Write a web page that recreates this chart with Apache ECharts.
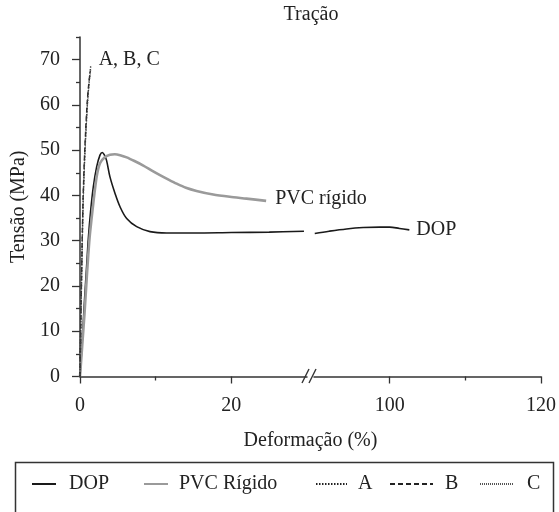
<!DOCTYPE html>
<html><head><meta charset="utf-8">
<script src="https://cdn.jsdelivr.net/npm/echarts@6/dist/echarts.min.js"></script>
<style>html,body{margin:0;padding:0;background:#fff}#c{width:559px;height:512px}</style>
</head><body><div id="c"></div>
<script>
// ---- data ----
const dopStrainLeft  = [0, 0.3, 0.6, 0.9, 1.1, 1.4, 1.76, 2.2, 2.64, 2.95, 3.2, 3.5, 3.96, 4.62, 5.29, 6.17, 7.49, 9.25, 11.45, 15, 20, 25, 29.6];
const dopStressLeft  = [0, 8, 17, 25, 30.5, 36.5, 41.9, 46.3, 48.9, 49.5, 49.0, 47.8, 44.1, 40.5, 37.5, 34.9, 33.1, 32.0, 31.7, 31.7, 31.8, 31.9, 32.1];
const dopStrainRight = [90.1, 92, 94.3, 96.5, 98.7, 100, 101.3, 102.6];
const dopStressRight = [31.6, 32.1, 32.6, 32.9, 33.0, 33.0, 32.7, 32.4];
const pvcStrain = [0, 0.3, 0.6, 0.9, 1.1, 1.32, 1.76, 2.2, 2.64, 3.3, 3.96, 4.6, 5.3, 6.17, 7.2, 8.37, 9.5, 10.57, 11.7, 12.77, 14, 15.4, 17.6, 19.8, 22.0, 24.6];
const pvcStress = [0, 7, 14, 22, 27, 31.6, 38.3, 44.1, 47.1, 48.5, 49.0, 49.1, 48.9, 48.4, 47.6, 46.6, 45.5, 44.5, 43.5, 42.6, 41.7, 41.0, 40.2, 39.7, 39.3, 38.8];
const aStrain = [0, 0.15, 0.3, 0.44, 0.66, 0.97, 1.2, 1.41];
const aStress = [0, 16, 30, 40, 50, 60, 65, 68.5];
const bStrain = [0, 0.15, 0.29, 0.42, 0.63, 0.93, 1.15, 1.36];
const bStress = [0, 16, 30, 40, 50, 60, 64.5, 67.5];
const cStrain = [0, 0.16, 0.31, 0.46, 0.68, 1.0, 1.23, 1.45];
const cStress = [0, 16, 30, 40, 50, 60, 65, 68];

const yTicks = [0, 10, 20, 30, 40, 50, 60, 70];
const yMinorTicks = [5, 15, 25, 35, 45, 55, 65, 75];
const xTicksLeft = [0, 20];
const xMinorLeft = [10];
const xTicksRight = [100, 120];
const xMinorRight = [110];

const titleText = 'Tração';
const xName = 'Deformação (%)';
const yName = 'Tensão (MPa)';
const legendNames = ['DOP', 'PVC Rígido', 'A', 'B', 'C'];

// ---- chart ----
const FONT = 'Liberation Serif';
const FS = 20;
const INK = '#222';
const AX = '#333';
const zip = (xs, ys) => xs.map((x, i) => [x, ys[i]]);
const txt = {fontFamily: FONT, fontSize: FS, color: INK};

const chart = echarts.init(document.getElementById('c'), null, {renderer: 'canvas'});

function xMain(grid, min, max, ticks) {
  return {type: 'value', gridIndex: grid, min, max, position: 'bottom',
    axisLine: {show: true, onZero: false, lineStyle: {color: AX, width: 1.5}},
    axisTick: {show: true, customValues: ticks, length: 7, lineStyle: {color: AX, width: 1.3}},
    axisLabel: {show: true, customValues: ticks, margin: 19, ...txt},
    splitLine: {show: false}};
}
function xMinor(grid, min, max, ticks) {
  return {type: 'value', gridIndex: grid, min, max, position: 'bottom',
    axisLine: {show: false, onZero: false},
    axisTick: {show: true, customValues: ticks, length: 4, lineStyle: {color: AX, width: 1.3}},
    axisLabel: {show: false}, splitLine: {show: false}};
}

const legendSpec = [
  {name: legendNames[0], left: 31, w: 24, pad: 8},
  {name: legendNames[1], left: 143, w: 24, pad: 6},
  {name: legendNames[2], left: 315, w: 31, pad: 6},
  {name: legendNames[3], left: 389, w: 43, pad: 7},
  {name: legendNames[4], left: 479, w: 33, pad: 9}
];

const option = {
  animation: false,
  backgroundColor: '#fff',
  textStyle: {fontFamily: FONT},
  grid: [
    {left: 80, top: 37, width: 227, height: 339.5},
    {left: 314, top: 37, width: 227, height: 339.5}
  ],
  xAxis: [
    xMain(0, 0, 30, xTicksLeft),
    xMinor(0, 0, 30, xMinorLeft),
    xMain(1, 90, 120, xTicksRight),
    xMinor(1, 90, 120, xMinorRight)
  ],
  yAxis: [
    {type: 'value', gridIndex: 0, min: 0, max: 75, position: 'left',
      axisLine: {show: true, onZero: false, lineStyle: {color: AX, width: 1.5}},
      axisTick: {show: true, customValues: yTicks, length: 8, lineStyle: {color: AX, width: 1.3}},
      axisLabel: {show: true, customValues: yTicks, margin: 20, ...txt},
      splitLine: {show: false},
      name: yName, nameLocation: 'middle', nameGap: 51, nameTextStyle: {...txt}},
    {type: 'value', gridIndex: 0, min: 0, max: 75, position: 'left',
      axisLine: {show: false, onZero: false},
      axisTick: {show: true, customValues: yMinorTicks, length: 4, lineStyle: {color: AX, width: 1.3}},
      axisLabel: {show: false}, splitLine: {show: false}},
    {type: 'value', gridIndex: 1, min: 0, max: 75, show: false}
  ],
  legend: legendSpec.map(l => ({
    data: [l.name], left: l.left, top: 474, padding: 0, itemGap: 0,
    itemWidth: l.w, itemHeight: 12, selectedMode: false,
    itemStyle: {opacity: 0, borderWidth: 0},
    textStyle: {...txt, padding: [0, 0, 0, l.pad]}
  })),
  series: [
    {name: 'DOP', type: 'line', xAxisIndex: 0, yAxisIndex: 0, data: zip(dopStrainLeft, dopStressLeft),
      symbol: 'none', smooth: 0.35, lineStyle: {color: '#1a1a1a', width: 1.6}, itemStyle: {color: '#1a1a1a'}},
    {name: 'DOP', type: 'line', xAxisIndex: 2, yAxisIndex: 2, data: zip(dopStrainRight, dopStressRight),
      symbol: 'none', smooth: 0.35, lineStyle: {color: '#1a1a1a', width: 1.6}, itemStyle: {color: '#1a1a1a'},
      endLabel: {show: true, formatter: 'DOP', distance: 7, ...txt}},
    {name: 'PVC Rígido', type: 'line', xAxisIndex: 0, yAxisIndex: 0, data: zip(pvcStrain, pvcStress),
      symbol: 'none', smooth: 0.25, lineStyle: {color: '#9a9a9a', width: 2.6}, itemStyle: {color: '#9a9a9a'},
      endLabel: {show: true, formatter: 'PVC rígido', distance: 9, offset: [0, -2], ...txt}},
    {name: 'A', type: 'line', xAxisIndex: 0, yAxisIndex: 0, data: zip(aStrain, aStress),
      symbol: 'none', smooth: 0.3, lineStyle: {color: '#222', width: 1.4, type: [1.5, 1.5]}, itemStyle: {color: '#222'},
      endLabel: {show: true, formatter: 'A, B, C', distance: 8, offset: [0, -7], ...txt}},
    {name: 'B', type: 'line', xAxisIndex: 0, yAxisIndex: 0, data: zip(bStrain, bStress),
      symbol: 'none', smooth: 0.3, lineStyle: {color: '#222', width: 1.4, type: [5, 3]}, itemStyle: {color: '#222'}},
    {name: 'C', type: 'line', xAxisIndex: 0, yAxisIndex: 0, data: zip(cStrain, cStress),
      symbol: 'none', smooth: 0.3, lineStyle: {color: '#555', width: 1, type: [1, 1]}, itemStyle: {color: '#555'}}
  ],
  graphic: [
    {type: 'text', x: 311, y: 15, style: {text: titleText, font: FS + 'px "' + FONT + '"', fill: INK, textAlign: 'center', textVerticalAlign: 'middle'}},
    {type: 'text', x: 310.5, y: 441, style: {text: xName, font: FS + 'px "' + FONT + '"', fill: INK, textAlign: 'center', textVerticalAlign: 'middle'}},
    {type: 'rect', shape: {x: 15.5, y: 462.5, width: 538, height: 60}, style: {fill: 'none', stroke: '#333', lineWidth: 1.5}},
    {type: 'line', shape: {x1: 302, y1: 383, x2: 309, y2: 369}, style: {stroke: AX, lineWidth: 1.4}},
    {type: 'line', shape: {x1: 309, y1: 383, x2: 316, y2: 369}, style: {stroke: AX, lineWidth: 1.4}}
  ]
};
chart.setOption(option);
</script>
</body></html>
